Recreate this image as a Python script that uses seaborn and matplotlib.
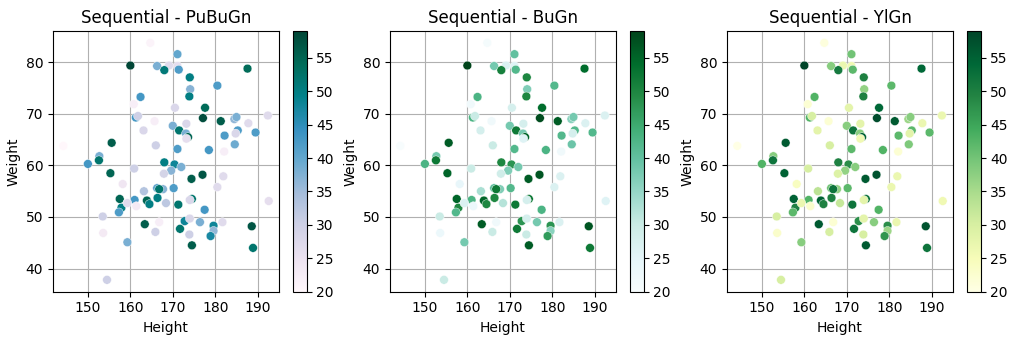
import numpy as np
import pandas as pd
import matplotlib
matplotlib.use("Agg")
import matplotlib.pyplot as plt
import seaborn as sns

height = [164.7, 171.1, 160.0, 166.3, 169.1, 171.1, 171.4, 168.0, 187.6, 174.0,
          174.1, 173.9, 180.5, 162.4, 160.8, 170.5, 177.6, 177.1, 181.3, 161.3,
          161.8, 165.7, 163.1, 173.2, 170.0, 171.5, 173.1, 173.6, 173.2, 184.5,
          185.0, 187.8, 192.4, 185.3, 184.8, 182.2, 189.5, 184.6, 144.2, 155.6,
          166.0, 171.1, 178.5, 182.1, 152.7, 152.6, 150.0, 168.0, 170.4, 172.0,
          169.6, 160.9, 155.3, 167.9, 174.4, 177.0, 181.9, 158.2, 180.5, 166.3,
          167.7, 166.8, 170.2, 163.2, 157.5, 161.0, 163.9, 164.5, 166.4, 168.4,
          174.5, 174.0, 171.3, 157.9, 157.3, 159.3, 161.4, 153.5, 177.5, 192.6,
          163.4, 166.8, 172.8, 174.0, 176.4, 171.7, 179.6, 179.6, 181.7, 188.6,
          178.9, 153.6, 165.9, 173.9, 174.5, 188.9, 159.3, 154.5]
weight = [83.8, 81.6, 79.4, 79.3, 79.4, 79.3, 78.6, 78.5, 78.8, 77.1,
          74.8, 73.4, 75.5, 73.3, 71.9, 71.2, 71.2, 69.2, 68.6, 69.3,
          69.6, 68.6, 66.8, 68.1, 67.7, 66.8, 66.2, 65.5, 65.2, 69.0,
          69.4, 68.2, 69.7, 66.8, 66.2, 65.8, 66.4, 64.1, 63.8, 64.4,
          63.9, 63.2, 63.0, 62.7, 61.8, 61.0, 60.3, 60.6, 60.2, 59.7,
          59.0, 59.4, 58.5, 58.4, 57.4, 58.2, 57.9, 56.4, 55.8, 55.6,
          55.4, 55.4, 55.6, 55.0, 53.5, 53.3, 53.2, 52.5, 53.7, 52.7,
          53.5, 53.3, 52.4, 51.8, 50.9, 52.7, 52.1, 50.1, 51.4, 53.1,
          48.6, 49.0, 49.2, 49.7, 49.0, 47.7, 48.3, 47.3, 49.0, 48.2,
          46.3, 46.9, 47.1, 46.6, 44.5, 44.0, 45.1, 37.8]
age = [21, 40, 59, 38, 27, 26, 42, 51, 54, 50,
       37, 50, 42, 43, 22, 28, 54, 58, 56, 43,
       30, 22, 28, 28, 38, 52, 38, 55, 26, 36,
       38, 27, 27, 42, 28, 42, 42, 39, 20, 56,
       30, 42, 43, 22, 38, 52, 43, 50, 48, 38,
       37, 30, 55, 29, 56, 57, 27, 24, 27, 40,
       37, 52, 42, 33, 55, 43, 55, 50, 50, 32,
       52, 28, 52, 50, 42, 27, 23, 30, 43, 26,
       56, 22, 48, 28, 38, 52, 48, 36, 27, 57,
       47, 23, 30, 30, 56, 52, 38, 30]

cmaps = ["PuBuGn", "BuGn", "YlGn"]
titles = ["Sequential - PuBuGn", "Sequential - BuGn", "Sequential - YlGn"]

df = pd.DataFrame({"Height": height, "Weight": weight, "Age": age})
norm = plt.Normalize(min(age), max(age))

W, H = 1024, 341
fig = plt.figure(figsize=(W / 100, H / 100), dpi=100)
lefts = [53, 390, 727]
ax_w, cb_pad, cb_w = 226, 13.7, 14
bottom_px, top_px = 291.7, 31
for left, cm, title in zip(lefts, cmaps, titles):
    ax = fig.add_axes([left / W, (H - bottom_px) / H, ax_w / W, (bottom_px - top_px) / H])
    cax = fig.add_axes([(left + ax_w + cb_pad) / W, (H - bottom_px) / H, cb_w / W,
                        (bottom_px - top_px) / H])
    sns.scatterplot(data=df, x="Height", y="Weight", hue="Age", palette=cm,
                    hue_norm=norm, s=40, linewidth=0.3, edgecolor="white",
                    legend=False, ax=ax)
    sm = plt.cm.ScalarMappable(cmap=cm, norm=norm)
    sm.set_array([])
    fig.colorbar(sm, cax=cax)
    ax.set_title(title, fontsize=12)
    ax.set_xlabel("Height")
    ax.set_ylabel("Weight")
    ax.set_xticks([150, 160, 170, 180, 190])
    ax.set_yticks([40, 50, 60, 70, 80])
    ax.grid(True)
    ax.set_axisbelow(True)

fig.savefig("out.png", dpi=100)
